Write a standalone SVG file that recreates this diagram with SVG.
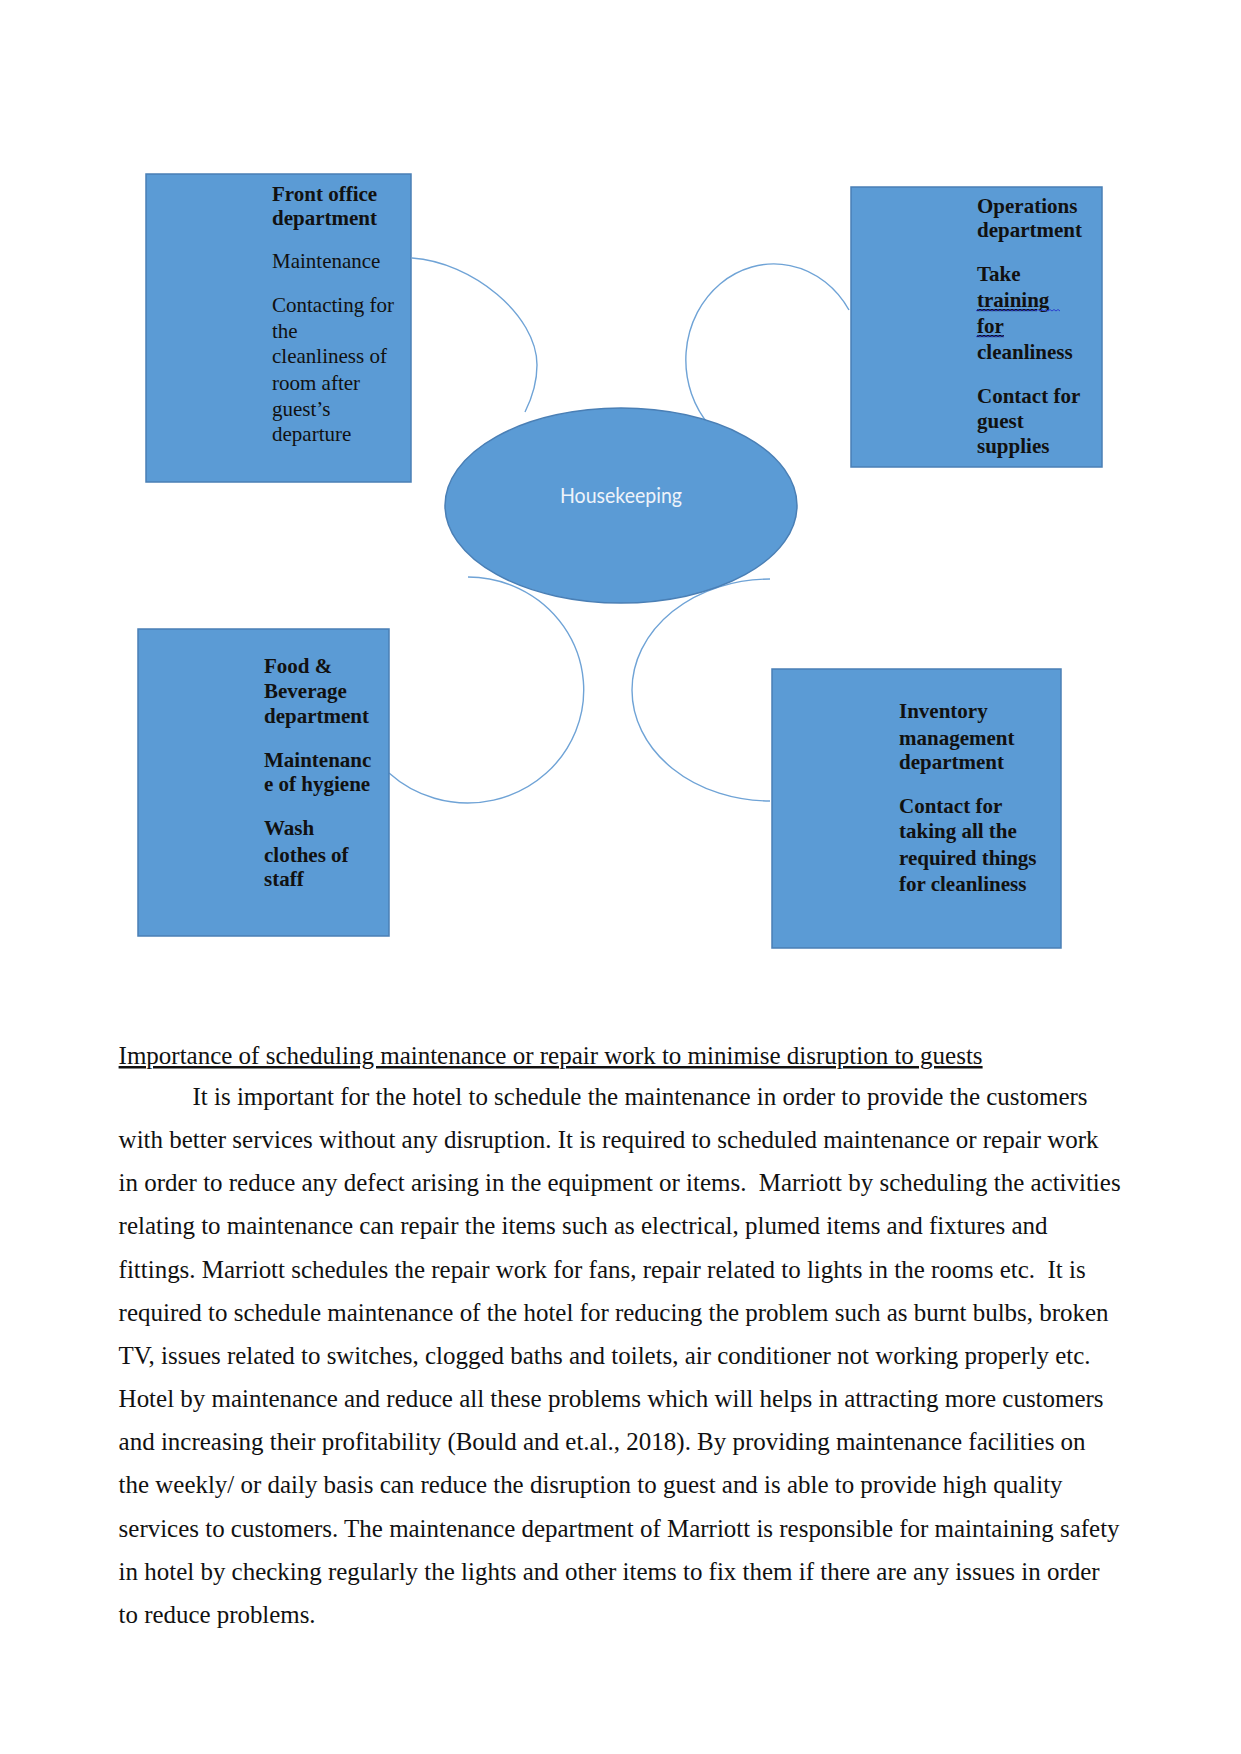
<svg xmlns="http://www.w3.org/2000/svg" width="1241" height="1754" viewBox="0 0 1241 1754">
<style>
.box{fill:#5b9bd5;stroke:#4a7fb5;stroke-width:1.5}
.t{font-family:"Liberation Serif","Times New Roman",serif;font-size:21px;fill:#111}
.b{font-weight:bold}
.conn{fill:none;stroke:#6fa3d6;stroke-width:1.4}
.body{font-family:"Liberation Serif","Times New Roman",serif;font-size:25px;fill:#111}
.wavy{fill:none;stroke:#2a3fd0;stroke-width:1}
</style>
<rect width="1241" height="1754" fill="#ffffff"/>

<g id="connectors">
  <path class="conn" d="M412,258 C472,262 537,315 537,365 C537,385 531,400 525,412"/>
  <path class="conn" d="M849,310 A88,96 0 1 0 710,426"/>
  <path class="conn" d="M468,577 A116,113 0 1 1 389,773"/>
  <path class="conn" d="M770,579 A138,111 0 0 0 770,801"/>
</g>

<g id="node-housekeeping">
  <ellipse cx="621" cy="505.5" rx="176" ry="97.5" fill="#5b9bd5" stroke="#4a7fb5" stroke-width="1.5"/>
  <text x="621" y="503" text-anchor="middle" font-family="Lato,'Open Sans',sans-serif" font-size="21" fill="#eef3fa" textLength="122" lengthAdjust="spacingAndGlyphs">Housekeeping</text>
</g>

<g id="node-front-office">
  <rect class="box" x="146" y="174" width="265" height="308"/>
  <text class="t b" x="272" y="201">Front office</text>
  <text class="t b" x="272" y="225">department</text>
  <text class="t" x="272" y="268">Maintenance</text>
  <text class="t" x="272" y="312">Contacting for</text>
  <text class="t" x="272" y="337.5">the</text>
  <text class="t" x="272" y="363">cleanliness of</text>
  <text class="t" x="272" y="389.5">room after</text>
  <text class="t" x="272" y="415.5">guest’s</text>
  <text class="t" x="272" y="441">departure</text>
</g>

<g id="node-operations">
  <rect class="box" x="851" y="187" width="251" height="280"/>
  <text class="t b" x="977" y="213">Operations</text>
  <text class="t b" x="977" y="237">department</text>
  <text class="t b" x="977" y="281">Take</text>
  <text class="t b" x="977" y="307" text-decoration="underline">training</text>
  <text class="t b" x="977" y="333" text-decoration="underline">for</text>
  <text class="t b" x="977" y="359">cleanliness</text>
  <text class="t b" x="977" y="403">Contact for</text>
  <text class="t b" x="977" y="428">guest</text>
  <text class="t b" x="977" y="453">supplies</text>
  <path class="wavy" d="M976,311 l2,-1.5 2,1.5 2,-1.5 2,1.5 2,-1.5 2,1.5 2,-1.5 2,1.5 2,-1.5 2,1.5 2,-1.5 2,1.5 2,-1.5 2,1.5 2,-1.5 2,1.5 2,-1.5 2,1.5 2,-1.5 2,1.5 2,-1.5 2,1.5 2,-1.5 2,1.5 2,-1.5 2,1.5 2,-1.5 2,1.5 2,-1.5 2,1.5 2,-1.5 2,1.5 2,-1.5 2,1.5 2,-1.5 2,1.5 2,-1.5 2,1.5 2,-1.5 2,1.5 2,-1.5 2,1.5"/>
  <path class="wavy" d="M976,337 l2,-1.5 2,1.5 2,-1.5 2,1.5 2,-1.5 2,1.5 2,-1.5 2,1.5 2,-1.5 2,1.5 2,-1.5 2,1.5 2,-1.5 2,1.5"/>
</g>

<g id="node-food-beverage">
  <rect class="box" x="138" y="629" width="251" height="307"/>
  <text class="t b" x="264" y="673">Food &amp;</text>
  <text class="t b" x="264" y="698">Beverage</text>
  <text class="t b" x="264" y="723">department</text>
  <text class="t b" x="264" y="767">Maintenanc</text>
  <text class="t b" x="264" y="791">e of hygiene</text>
  <text class="t b" x="264" y="835">Wash</text>
  <text class="t b" x="264" y="862">clothes of</text>
  <text class="t b" x="264" y="886">staff</text>
</g>

<g id="node-inventory">
  <rect class="box" x="772" y="669" width="289" height="279"/>
  <text class="t b" x="899" y="718">Inventory</text>
  <text class="t b" x="899" y="745">management</text>
  <text class="t b" x="899" y="769">department</text>
  <text class="t b" x="899" y="813">Contact for</text>
  <text class="t b" x="899" y="838">taking all the</text>
  <text class="t b" x="899" y="865">required things</text>
  <text class="t b" x="899" y="891">for cleanliness</text>
</g>

<g id="body-text">
  <text class="body" x="118.6" y="1064" text-decoration="underline" textLength="864" lengthAdjust="spacingAndGlyphs">Importance of scheduling maintenance or repair work to minimise disruption to guests</text>
  <text class="body" x="192.5" y="1105" textLength="895" lengthAdjust="spacingAndGlyphs">It is important for the hotel to schedule the maintenance in order to provide the customers</text>
  <text class="body" x="118.6" y="1148" textLength="980" lengthAdjust="spacingAndGlyphs">with better services without any disruption. It is required to scheduled maintenance or repair work</text>
  <text class="body" x="118.6" y="1191" xml:space="preserve" textLength="1002" lengthAdjust="spacingAndGlyphs">in order to reduce any defect arising in the equipment or items.  Marriott by scheduling the activities</text>
  <text class="body" x="118.6" y="1234" textLength="929" lengthAdjust="spacingAndGlyphs">relating to maintenance can repair the items such as electrical, plumed items and fixtures and</text>
  <text class="body" x="118.6" y="1278" xml:space="preserve" textLength="967" lengthAdjust="spacingAndGlyphs">fittings. Marriott schedules the repair work for fans, repair related to lights in the rooms etc.  It is</text>
  <text class="body" x="118.6" y="1321" textLength="990" lengthAdjust="spacingAndGlyphs">required to schedule maintenance of the hotel for reducing the problem such as burnt bulbs, broken</text>
  <text class="body" x="118.6" y="1364" textLength="972" lengthAdjust="spacingAndGlyphs">TV, issues related to switches, clogged baths and toilets, air conditioner not working properly etc.</text>
  <text class="body" x="118.6" y="1407" textLength="985" lengthAdjust="spacingAndGlyphs">Hotel by maintenance and reduce all these problems which will helps in attracting more customers</text>
  <text class="body" x="118.6" y="1450" textLength="967" lengthAdjust="spacingAndGlyphs">and increasing their profitability (Bould and et.al., 2018). By providing maintenance facilities on</text>
  <text class="body" x="118.6" y="1493" textLength="944" lengthAdjust="spacingAndGlyphs">the weekly/ or daily basis can reduce the disruption to guest and is able to provide high quality</text>
  <text class="body" x="118.6" y="1537" textLength="1001" lengthAdjust="spacingAndGlyphs">services to customers. The maintenance department of Marriott is responsible for maintaining safety</text>
  <text class="body" x="118.6" y="1580" textLength="981" lengthAdjust="spacingAndGlyphs">in hotel by checking regularly the lights and other items to fix them if there are any issues in order</text>
  <text class="body" x="118.6" y="1623" textLength="197" lengthAdjust="spacingAndGlyphs">to reduce problems.</text>
</g>
</svg>
